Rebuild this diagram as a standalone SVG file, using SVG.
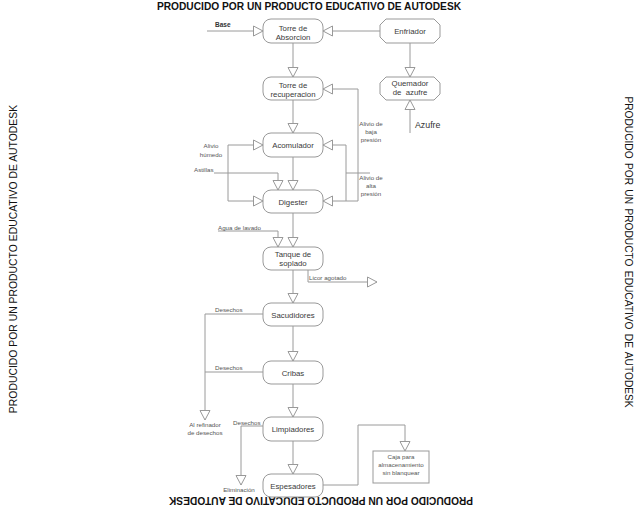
<svg xmlns="http://www.w3.org/2000/svg" width="640" height="512" viewBox="0 0 640 512">
<style>
.box{fill:#fff;stroke:#999;stroke-width:1}
.lbl{font-family:"Liberation Sans",Arial,sans-serif;font-size:7.8px;fill:#3a3a3a;text-anchor:middle}
.sm{font-family:"Liberation Sans",Arial,sans-serif;font-size:6.2px;fill:#555}
.c{text-anchor:middle}
.wm{font-family:"Liberation Sans",Arial,sans-serif;font-size:10.2px;font-weight:bold;fill:#111;text-anchor:middle}
.ln{fill:none;stroke:#9a9a9a;stroke-width:1}
.ar{marker-end:url(#ah)}
</style>
<defs>
<marker id="ah" markerUnits="userSpaceOnUse" viewBox="-1 -1 12 12" markerWidth="12" markerHeight="12" refX="10" refY="5" orient="auto">
<path d="M0.5,0 L10,5 L0.5,10 Z" fill="#fff" stroke="#999" stroke-width="1"/>
</marker>
</defs>
<rect width="640" height="512" fill="#fff"/>
<g id="watermarks">
<text class="wm" x="309" y="9.5">PRODUCIDO POR UN PRODUCTO EDUCATIVO DE AUTODESK</text>
<text class="wm" x="321" y="505" transform="rotate(180 321 501)">PRODUCIDO POR UN PRODUCTO EDUCATIVO DE AUTODESK</text>
<text class="wm" x="0" y="0" transform="translate(17 259) rotate(-90)" style="font-weight:normal;font-size:10.4px">PRODUCIDO POR UN PRODUCTO EDUCATIVO DE AUTODESK</text>
<text class="wm" x="0" y="0" transform="translate(625 252) rotate(90)" style="font-weight:normal;font-size:10.2px;word-spacing:1.5px">PRODUCIDO POR UN PRODUCTO EDUCATIVO DE AUTODESK</text>
</g>
<g id="connectors">
<path class="ln ar" d="M207,31 H263"/>
<path class="ln ar" d="M380,31 H323"/>
<path class="ln ar" d="M293,43 V77"/>
<path class="ln ar" d="M410,43 V77"/>
<path class="ln ar" d="M410,133 V100"/>
<path class="ln ar" d="M293,100 V133"/>
<path class="ln ar" d="M358,201 V89 H323"/>
<path class="ln ar" d="M346,201 V145 H323"/>
<path class="ln ar" d="M358,201 H323"/>
<path class="ln" d="M370,173 H346"/>
<path class="ln ar" d="M228,173 V145 H263"/>
<path class="ln ar" d="M228,173 V201 H263"/>
<path class="ln ar" d="M214,173 H278 V190"/>
<path class="ln ar" d="M293,157 V190"/>
<path class="ln ar" d="M218,231 H278 V247"/>
<path class="ln ar" d="M293,213 V247"/>
<path class="ln ar" d="M308,270 V282 H377"/>
<path class="ln ar" d="M293,270 V303"/>
<path class="ln ar" d="M263,314 H205 V420"/>
<path class="ln" d="M263,372 H205"/>
<path class="ln ar" d="M293,326 V361"/>
<path class="ln ar" d="M293,384 V417"/>
<path class="ln ar" d="M263,426 H241 V485"/>
<path class="ln ar" d="M293,441 V474"/>
<path class="ln ar" d="M323,485 H358 V425 H405 V451"/>
</g>
<g id="labels">
<text class="sm" x="215" y="27" style="font-weight:bold;font-size:6.5px;fill:#333">Base</text>
<text class="sm c" x="371" y="126">Alivio de</text>
<text class="sm c" x="371" y="134">baja</text>
<text class="sm c" x="371" y="142">presión</text>
<text class="sm c" x="371" y="180">Alivio de</text>
<text class="sm c" x="371" y="188">alta</text>
<text class="sm c" x="371" y="196">presión</text>
<text class="sm c" x="211" y="148">Alivio</text>
<text class="sm c" x="211" y="157">húmedo</text>
<text class="sm" x="194" y="172">Astillas</text>
<text class="sm" x="218" y="230">Agua de lavado</text>
<text class="sm" x="309" y="280">Licor agotado</text>
<text class="sm" x="215" y="312">Desechos</text>
<text class="sm" x="215" y="370">Desechos</text>
<text class="sm c" x="205" y="427">Al refinador</text>
<text class="sm c" x="205" y="435">de desechos</text>
<text class="sm" x="233" y="425">Desechos</text>
<text class="sm c" x="239" y="492">Eliminación</text>
<text x="415" y="128" style="font-family:'Liberation Sans',Arial,sans-serif;font-size:8.8px;fill:#333">Azufre</text>
</g>
<g id="torre-absorcion">
<rect class="box" x="263" y="19" width="60" height="24" rx="8"/>
<text class="lbl" x="293" y="30.5">Torre de</text>
<text class="lbl" x="293" y="39.5">Absorcion</text>
</g>
<g id="enfriador">
<polygon class="box" points="386,19 434,19 440,25 440,37 434,43 386,43 380,37 380,25"/>
<text class="lbl" x="410" y="34">Enfriador</text>
</g>
<g id="torre-recuperacion">
<rect class="box" x="263" y="77" width="60" height="23" rx="8"/>
<text class="lbl" x="293" y="88">Torre de</text>
<text class="lbl" x="293" y="97">recuperacion</text>
</g>
<g id="quemador">
<polygon class="box" points="386,77 434,77 440,83 440,94 434,100 386,100 380,94 380,83"/>
<text class="lbl" x="410" y="86">Quemador</text>
<text class="lbl" x="410" y="95" style="white-space:pre">de  azufre</text>
</g>
<g id="acomulador">
<rect class="box" x="263" y="133" width="60" height="24" rx="8"/>
<text class="lbl" x="293" y="148">Acomulador</text>
</g>
<g id="digester">
<rect class="box" x="263" y="190" width="60" height="23" rx="8"/>
<text class="lbl" x="293" y="204.5">Digester</text>
</g>
<g id="tanque">
<rect class="box" x="263" y="247" width="60" height="23" rx="8"/>
<text class="lbl" x="293" y="257">Tanque de</text>
<text class="lbl" x="293" y="266">soplado</text>
</g>
<g id="sacudidores">
<rect class="box" x="263" y="303" width="60" height="23" rx="8"/>
<text class="lbl" x="293" y="317.5">Sacudidores</text>
</g>
<g id="cribas">
<rect class="box" x="263" y="361" width="60" height="23" rx="8"/>
<text class="lbl" x="293" y="375.5">Cribas</text>
</g>
<g id="limpiadores">
<rect class="box" x="263" y="417" width="60" height="24" rx="8"/>
<text class="lbl" x="293" y="432">Limpiadores</text>
</g>
<g id="espesadores">
<rect class="box" x="263" y="474" width="60" height="23" rx="8"/>
<text class="lbl" x="293" y="488.5">Espesadores</text>
</g>
<g id="caja">
<rect class="box" x="373" y="451" width="56" height="32"/>
<text class="sm c" x="401" y="459">Caja para</text>
<text class="sm c" x="401" y="467">almacenamiento</text>
<text class="sm c" x="401" y="475">sin blanquear</text>
</g>
</svg>
